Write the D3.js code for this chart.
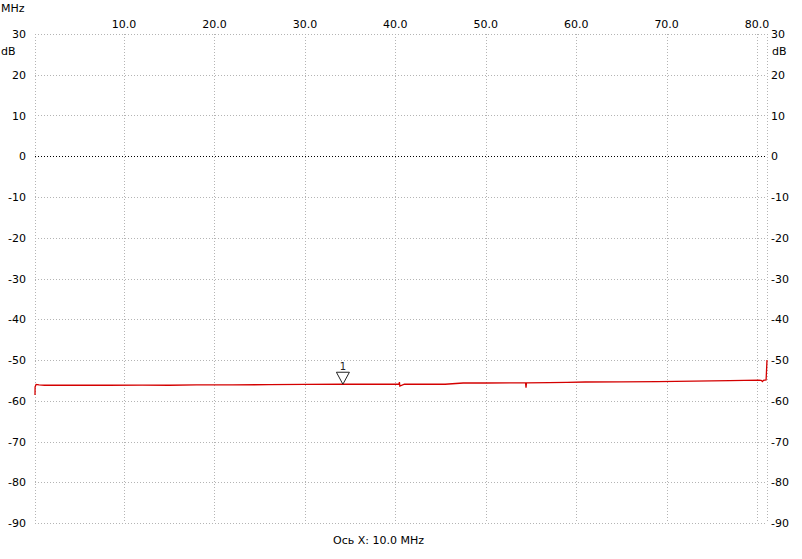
<!DOCTYPE html>
<html><head><meta charset="utf-8">
<script src="https://cdn.jsdelivr.net/npm/d3@7"></script>
<style>body{margin:0;background:#fff}svg{display:block}text{font-family:"DejaVu Sans",sans-serif;font-size:11px;fill:#000}</style>
</head><body><svg id="c" width="802" height="559"></svg>
<script>
const xTicks = [10, 20, 30, 40, 50, 60, 70, 80];
const yTicks = [30, 20, 10, 0, -10, -20, -30, -40, -50, -60, -70, -80, -90];
const traceFreq = [0.15, 0.16, 0.27, 0.6, 1.2, 3, 5, 8.3, 12, 15, 18, 22, 26, 30, 34.2, 38, 40.4, 40.45, 40.5, 41, 44, 45.5, 47.5, 50, 53, 54.4, 54.45, 54.5, 57, 59, 61, 65, 69, 73, 77, 80.2, 80.45, 80.6, 80.7, 81.0, 81.1];
const traceDb   = [-58.6, -56.6, -56.0, -56.1, -56.2, -56.2, -56.2, -56.2, -56.15, -56.2, -56.1, -56.1, -56.05, -56.0, -55.95, -55.95, -55.95, -55.4, -56.4, -55.95, -55.95, -55.95, -55.65, -55.65, -55.6, -55.6, -56.8, -55.6, -55.55, -55.5, -55.4, -55.35, -55.3, -55.2, -55.05, -54.95, -55.0, -55.3, -55.0, -54.9, -50.0];
const markerFreq = 34.2;
const markerLabel = "1";
const xUnit = "MHz", yUnit = "dB", xCaption = "Ось X: 10.0 MHz";

const svg = d3.select("#c");
const x = d3.scaleLinear().domain([0.15, 81.1]).range([35, 767]);
const y = d3.scaleLinear().domain([-90, 30]).range([523, 34]);

// grid
const g = svg.append("g").attr("shape-rendering", "crispEdges");
g.selectAll(".vg").data(xTicks).enter().append("line")
  .attr("x1", d => Math.round(x(d)) + 0.5).attr("x2", d => Math.round(x(d)) + 0.5)
  .attr("y1", y(30)).attr("y2", y(-90))
  .attr("stroke", "#b4b4b4").attr("stroke-dasharray", "1,2");
[x.range()[0], x.range()[1]].forEach(px => g.append("line")
  .attr("x1", px + 0.5).attr("x2", px + 0.5).attr("y1", y(30)).attr("y2", y(-90))
  .attr("stroke", "#b4b4b4").attr("stroke-dasharray", "1,2"));
g.selectAll(".hg").data(yTicks).enter().append("line")
  .attr("x1", x.range()[0]).attr("x2", x.range()[1])
  .attr("y1", d => Math.round(y(d)) + 0.5).attr("y2", d => Math.round(y(d)) + 0.5)
  .attr("stroke", d => d === 0 ? "#000" : "#b4b4b4")
  .attr("stroke-dasharray", "1,2");

// x labels
svg.selectAll(".xl").data(xTicks).enter().append("text")
  .attr("x", d => x(d)).attr("y", 28).attr("text-anchor", "middle")
  .text(d => d.toFixed(1));
svg.append("text").attr("x", 1).attr("y", 12).text(xUnit);

// y labels
svg.selectAll(".yl").data(yTicks).enter().append("text")
  .attr("x", 26).attr("y", d => y(d) + 4).attr("text-anchor", "end").text(d => d);
svg.selectAll(".yr").data(yTicks).enter().append("text")
  .attr("x", 771).attr("y", d => y(d) + 4).text(d => d);
svg.append("text").attr("x", 1).attr("y", 55).text(yUnit);
svg.append("text").attr("x", 772).attr("y", 55).text(yUnit);

svg.append("text").attr("x", 333).attr("y", 544).text(xCaption);

// trace
const pts = traceFreq.map((f, i) => [f, traceDb[i]]);
svg.append("path").datum(pts)
  .attr("d", d3.line().x(d => x(d[0])).y(d => y(d[1])))
  .attr("fill", "none").attr("stroke", "#d40000").attr("stroke-width", 1.3);

// marker
const mDb = d3.scaleLinear().domain(traceFreq).range(traceDb)(markerFreq);
const mx = x(markerFreq), my = y(mDb);
svg.append("path")
  .attr("d", `M${mx - 6.5},${my - 12}L${mx + 6.5},${my - 12}L${mx},${my}Z`)
  .attr("fill", "#fff").attr("stroke", "#222").attr("stroke-width", 1);
svg.append("text").attr("x", mx).attr("y", my - 14).attr("text-anchor", "middle")
  .style("font-size", "10px").style("fill", "#222").text(markerLabel);
</script></body></html>
